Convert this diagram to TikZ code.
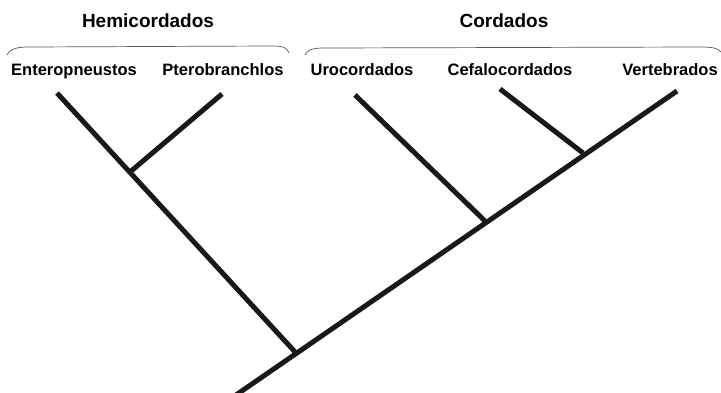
\documentclass[tikz,border=0pt]{standalone}
\usepackage{fontspec}
\setmainfont{Liberation Sans}
\begin{document}
\begin{tikzpicture}[x=1pt,y=-1pt,
  branch/.style={line width=5pt, black!90},
  taxon/.style={font=\bfseries\fontsize{16.5}{20}\selectfont, anchor=base, inner sep=0pt},
  group/.style={font=\bfseries\fontsize{19}{22}\selectfont, anchor=base, inner sep=0pt},
  bracket/.style={line width=0.7pt, black!65}]
\useasboundingbox (0,0) rectangle (721,393);
% group titles
\node[group] (hemi) at (148,28) {Hemicordados};
\node[group] (cord) at (504,28) {Cordados};
% brackets
\draw[bracket] (7,55) .. controls (11,48) and (18,47) .. (30,47) -- (272,46) .. controls (284,46) and (287,48) .. (289,53);
\draw[bracket] (305,55) .. controls (309,48) and (316,48) .. (328,48) -- (700,47) .. controls (712,47) and (718,48) .. (721,52);
% taxa
\node[taxon] (ent) at (74,76) {Enteropneustos};
\node[taxon] (pte) at (223,76) {Pterobranchlos};
\node[taxon] (uro) at (362,76) {Urocordados};
\node[taxon] (cef) at (510,76) {Cefalocordados};
\node[taxon] (ver) at (670,76) {Vertebrados};
% tips and joints
\coordinate (tEnt) at (57,93);
\coordinate (tPte) at (222,94);
\coordinate (tUro) at (355,95);
\coordinate (tCef) at (500,89);
\coordinate (tVer) at (677,91);
\coordinate (jHem) at (130,172);
\coordinate (jUro) at (485,221);
\coordinate (jCef) at (583,153);
\coordinate (root) at (296,353);
\coordinate (base) at (236,395);
% branches
\draw[branch] (tEnt) -- (root);
\draw[branch] (tPte) -- (jHem);
\draw[branch] (base) -- (tVer);
\draw[branch] (tUro) -- (jUro);
\draw[branch] (tCef) -- (jCef);
\end{tikzpicture}
\end{document}
